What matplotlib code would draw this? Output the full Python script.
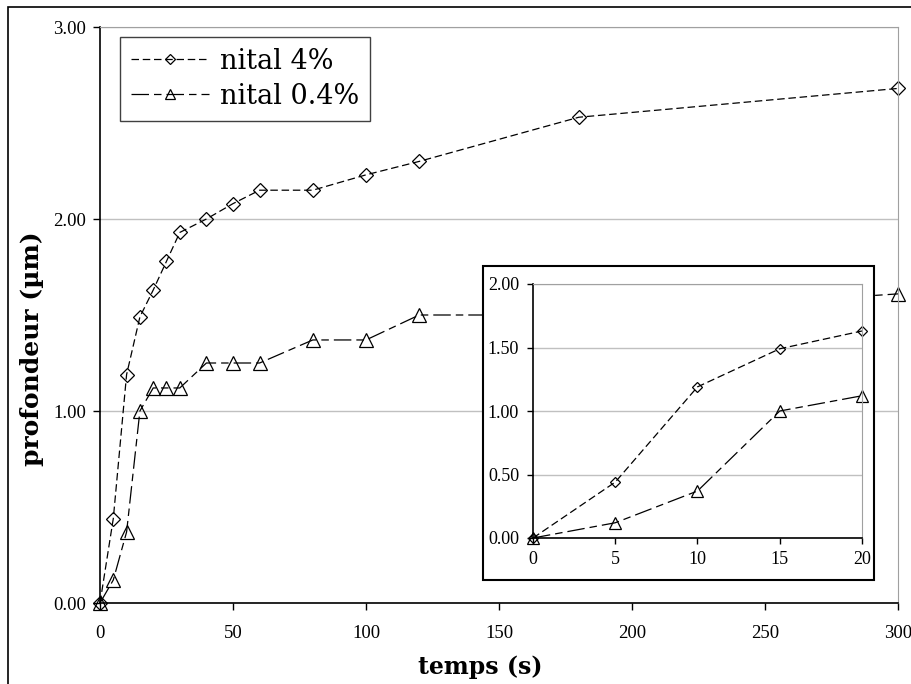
import matplotlib.pyplot as plt
from matplotlib.patches import Rectangle

temps = [0, 5, 10, 15, 20, 25, 30, 40, 50, 60, 80, 100, 120, 180, 300]
nital_4 = [0, 0.44, 1.19, 1.49, 1.63, 1.78, 1.93, 2.00, 2.08, 2.15, 2.15, 2.23, 2.30, 2.53, 2.68]
nital_04 = [0, 0.12, 0.37, 1.00, 1.12, 1.12, 1.12, 1.25, 1.25, 1.25, 1.37, 1.37, 1.50, 1.50, 1.61]

# inset: first 20 s only
n_zoom = 5
temps_zoom = temps[:n_zoom]
nital_4_zoom = nital_4[:n_zoom]
nital_04_zoom = nital_04[:n_zoom]

xticks_main = [0, 50, 100, 150, 200, 250, 300]
yticks_main = [0, 1, 2, 3]
xticks_zoom = [0, 5, 10, 15, 20]
yticks_zoom = [0, 0.5, 1, 1.5, 2]
labels = ['nital 4%', 'nital 0.4%']

TICK_FONT = 'Liberation Serif'
TEXT_FONT = 'DejaVu Serif'
W, H = 912, 684


def style_axes(ax, xticks, yticks, xpad, ypad, ticklen, size):
    ax.set_xticks(xticks)
    ax.set_yticks(yticks)
    ax.set_yticklabels([f'{v:.2f}' for v in yticks])
    ax.grid(True, axis='y', color='#c0c0c0', lw=1)
    ax.set_axisbelow(True)
    for s in ['top', 'right']:
        ax.spines[s].set_color('#a0a0a0')
    for s in ['left', 'bottom']:
        ax.spines[s].set_color('black')
        ax.spines[s].set_linewidth(1.2)
    ax.tick_params(direction='out', length=ticklen, width=1, labelsize=size)
    ax.tick_params(axis='x', pad=xpad)
    ax.tick_params(axis='y', pad=ypad)
    for lab in ax.get_xticklabels() + ax.get_yticklabels():
        lab.set_fontfamily(TICK_FONT)


def plot_profondeur():
    fig = plt.figure(figsize=(W / 100, H / 100), dpi=100)

    # main chart
    ax = fig.add_axes([100 / W, 1 - 603 / H, 798 / W, 576 / H])
    ax.plot(temps, nital_4, color='black', lw=0.9, dashes=(6, 3),
            marker='D', ms=7, mfc='none', mec='black', mew=0.9,
            clip_on=False, label=labels[0])
    ax.plot(temps, nital_04, color='black', lw=0.9, dashes=(14, 4, 6, 4),
            marker='^', ms=9.5, mfc='none', mec='black', mew=0.9,
            clip_on=False, label=labels[1])
    ax.set_xlim(0, 300)
    ax.set_ylim(0, 3)
    style_axes(ax, xticks_main, yticks_main, 11, 5, 5, 13.5)

    leg = ax.legend(loc='upper left', bbox_to_anchor=(0.025, 0.983),
                    borderaxespad=0, borderpad=0.4, fancybox=False,
                    framealpha=1, edgecolor='#404040', handlelength=2.9,
                    handletextpad=0.4, labelspacing=0.3, markerscale=0.75,
                    prop={'family': TEXT_FONT, 'size': 19.5})
    leg.get_frame().set_linewidth(1)

    fig.text(480 / W, 1 - 667 / H, 'temps (s)', ha='center', va='center',
             fontsize=17, fontweight='bold', family=TEXT_FONT)
    fig.text(32 / W, 1 - 349 / H, 'profondeur (µm)', ha='center', va='center',
             rotation=90, fontsize=18, fontweight='bold', family=TEXT_FONT)

    # outer frame (only top and left visible in the picture)
    fig.add_artist(Rectangle((8 / W, -0.1), 1.2, 1.1 - 7 / H,
                             transform=fig.transFigure, fill=False,
                             ec='black', lw=1.2))

    # inset box + inset chart
    fig.add_artist(Rectangle((483 / W, 1 - 580 / H), 391 / W, 314 / H,
                             transform=fig.transFigure, fc='white',
                             ec='black', lw=1.5, zorder=1))
    axi = fig.add_axes([533 / W, 1 - 538 / H, 329 / W, 254 / H], zorder=2)
    axi.plot(temps_zoom, nital_4_zoom, color='black', lw=0.9, dashes=(6, 3),
             marker='D', ms=5, mfc='none', mec='black', mew=0.9, clip_on=False)
    axi.plot(temps_zoom, nital_04_zoom, color='black', lw=0.9,
             dashes=(14, 4, 6, 4), marker='^', ms=8.5, mfc='none',
             mec='black', mew=0.9, clip_on=False)
    axi.set_xlim(0, 20)
    axi.set_ylim(0, 2)
    style_axes(axi, xticks_zoom, yticks_zoom, 5, 6, 4, 13)

    fig.savefig('out.png', dpi=100)


if __name__ == "__main__":
    plot_profondeur()
